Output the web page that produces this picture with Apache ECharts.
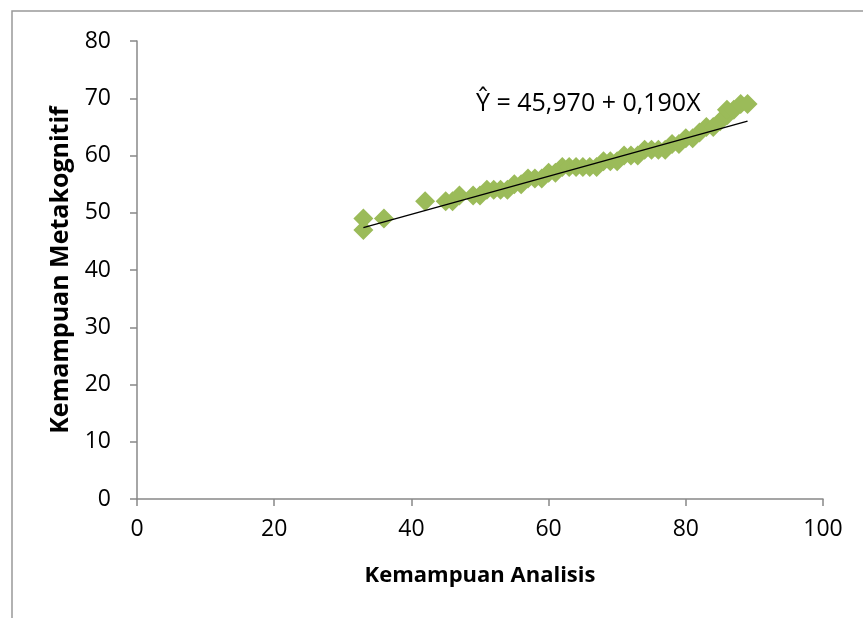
<!DOCTYPE html>
<html>
<head>
<meta charset="utf-8">
<script src="https://cdn.jsdelivr.net/npm/echarts@6/dist/echarts.min.js"></script>
<style>html,body{margin:0;padding:0;background:#fff;}#c{width:863px;height:618px;}</style>
</head>
<body>
<div id="c"></div>
<script>
// Data
var xValues = [33,33,36,42,45,46,47,49,50,51,52,53,54,55,56,57,58,59,60,61,62,63,64,65,66,67,68,69,70,71,72,73,74,75,76,77,78,79,80,81,82,83,84,85,86,86,87,88,89];
var yValues = [47,49,49,52,52,52,53,53,53,54,54,54,54,55,55,56,56,56,57,57,58,58,58,58,58,58,59,59,59,60,60,60,61,61,61,61,62,62,63,63,64,65,65,66,67,68,68,69,69];
var trendX = [33, 89];
var trendY = [47.4, 66.0];
var xTicks = [0,20,40,60,80,100];
var yTicks = [0,10,20,30,40,50,60,70,80];
var equationText = 'Ŷ = 45,970 + 0,190X';
var xTitle = 'Kemampuan Analisis';
var yTitle = 'Kemampuan Metakognitif';

var points = xValues.map(function(x,i){return [x, yValues[i]];});
var trend = trendX.map(function(x,i){return [x, trendY[i]];});

var chart = echarts.init(document.getElementById('c'), null, {renderer:'canvas'});
var font = '"Open Sans", "Noto Sans", sans-serif';
chart.setOption({
  animation:false,
  backgroundColor:'#fff',
  grid:{left:137, right:40, top:41, bottom:119},
  xAxis:{
    type:'value', min:0, max:100, interval:20,
    name:xTitle, nameLocation:'middle', nameGap:66,
    nameTextStyle:{color:'#000', fontSize:22, fontWeight:'bold', fontFamily:font},
    axisLine:{show:true, lineStyle:{color:'#888', width:1.5}},
    axisTick:{show:true, length:7, lineStyle:{color:'#888', width:1.5}},
    axisLabel:{color:'#000', fontSize:23, fontFamily:font, margin:19},
    splitLine:{show:false}
  },
  yAxis:{
    type:'value', min:0, max:80, interval:10,
    name:yTitle, nameLocation:'middle', nameGap:60,
    nameTextStyle:{color:'#000', fontSize:25, fontWeight:'bold', fontFamily:font},
    axisLine:{show:true, lineStyle:{color:'#888', width:1.5}},
    axisTick:{show:true, length:7, lineStyle:{color:'#888', width:1.5}},
    axisLabel:{color:'#000', fontSize:23, fontFamily:font, margin:26},
    splitLine:{show:false}
  },
  graphic:[
    {type:'polyline', shape:{points:[[12,640],[12,11],[900,11]]}, style:{stroke:'#999', lineWidth:1.5, fill:null}, silent:true},
    {type:'text', left:476, top:91, style:{text:equationText, fill:'#000', font:'25px ' + font}}
  ],
  series:[
    {type:'scatter', data:points, symbol:'diamond', symbolSize:20, itemStyle:{color:'#9BBB59', opacity:1}, z:2},
    {type:'line', data:trend, symbol:'none', lineStyle:{color:'#000', width:1.5}, z:3}
  ]
});
</script>
</body>
</html>
